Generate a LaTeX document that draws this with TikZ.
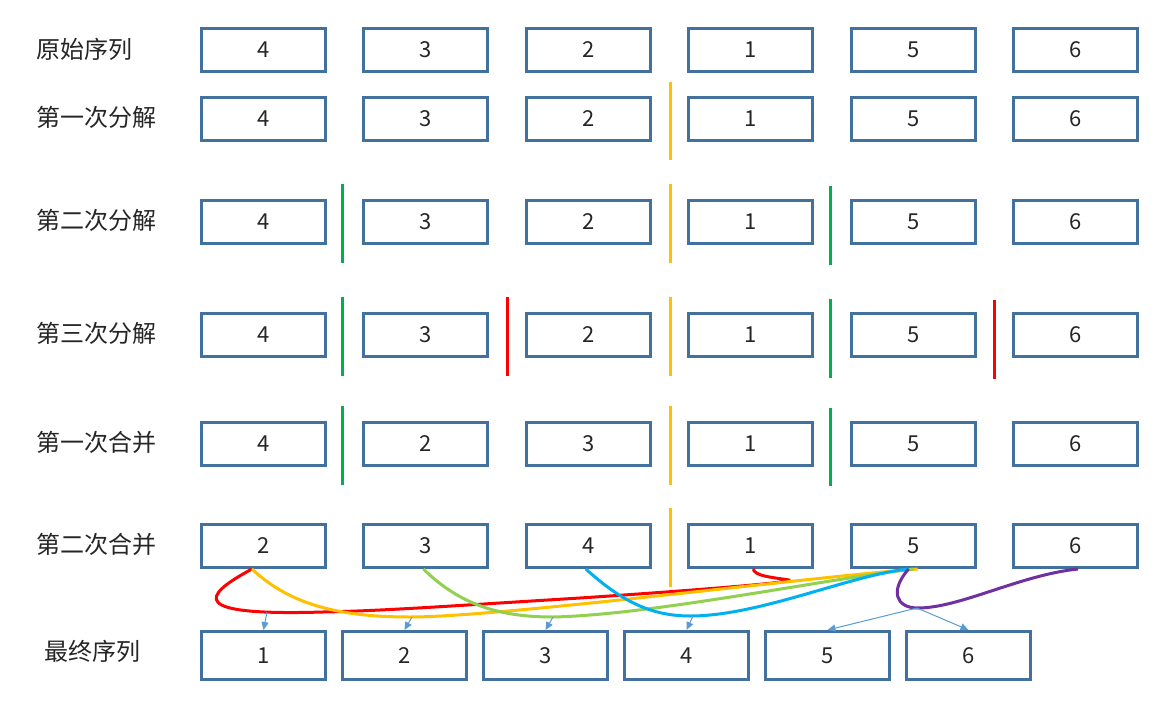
\documentclass[tikz,border=0pt]{standalone}
\usepackage{fontspec}
\setmainfont{Noto Sans CJK SC}
\usetikzlibrary{arrows.meta}
\definecolor{boxblue}{HTML}{41719C}
\definecolor{divorange}{HTML}{FFC000}
\definecolor{divgreen}{HTML}{00B050}
\definecolor{divred}{HTML}{FF0000}
\definecolor{cvgreen}{HTML}{92D050}
\definecolor{cvblue}{HTML}{00B0F0}
\definecolor{cvpurple}{HTML}{7030A0}
\definecolor{arrowblue}{HTML}{5B9BD5}
\begin{document}
\begin{tikzpicture}[x=1pt,y=-1pt,
  cell/.style={draw=boxblue,line width=3pt,minimum width=124pt,minimum height=43pt,inner sep=0pt,font=\fontsize{22}{26}\selectfont,text=black!85},
  fcell/.style={cell,minimum height=48pt},
  lbl/.style={anchor=west,inner sep=0pt,font=\fontsize{24}{28}\selectfont,text=black!85},
  divider/.style={line width=3pt},
  curve/.style={line width=3pt},
  tipline/.style={draw=arrowblue,line width=1pt,-{Triangle[length=8pt,width=7pt]}}]
\useasboundingbox[fill=white] (0,0) rectangle (1164,703);

% rows of boxes
\foreach \r/\y/\vals in {1/50/{4,3,2,1,5,6},2/119/{4,3,2,1,5,6},3/222/{4,3,2,1,5,6},4/335/{4,3,2,1,5,6},5/444/{4,2,3,1,5,6},6/546/{2,3,4,1,5,6}}{
  \foreach \v [count=\c] in \vals {
    \pgfmathsetmacro{\xx}{263.5+(\c-1)*162.4}
    \node[cell] (r\r-\c) at (\xx,\y) {\v};
  }
}
% labels
\node[lbl] (l1) at (36,49) {原始序列};
\node[lbl] (l2) at (36,117) {第一次分解};
\node[lbl] (l3) at (36,220) {第二次分解};
\node[lbl] (l4) at (36,333) {第三次分解};
\node[lbl] (l5) at (36,442) {第一次合并};
\node[lbl] (l6) at (36,544) {第二次合并};
\node[lbl] (l7) at (44,651) {最终序列};

% final row
\foreach \v [count=\c] in {1,2,3,4,5,6}{
  \pgfmathsetmacro{\xx}{263.5+(\c-1)*141}
  \node[fcell] (f\c) at (\xx,655.5) {\v};
}

% dividers
\draw[divider,divorange] (670,82) -- (670,160);
\draw[divider,divorange] (670,184) -- (670,263);
\draw[divider,divorange] (670,297) -- (670,376);
\draw[divider,divorange] (670,406) -- (670,485);
\draw[divider,divorange] (670,508) -- (670,587);
\draw[divider,divgreen] (342,184) -- (342,263);
\draw[divider,divgreen] (342,297) -- (342,376);
\draw[divider,divgreen] (342,406) -- (342,485);
\draw[divider,divgreen] (830,186) -- (830,265);
\draw[divider,divgreen] (830,299) -- (830,378);
\draw[divider,divgreen] (830,408) -- (830,486);
\draw[divider,divred] (507,297) -- (507,376);
\draw[divider,divred] (994,300) -- (994,379);

% merge curves
\draw[curve,divred] ([xshift=2.5]r6-4.south) .. controls (755,576) and (770,577) .. (789,580)
  .. controls (797,582) and (700,590) .. (580,598)
  .. controls (450,606) and (380,611) .. (323,612)
  .. controls (190,616) and (200,597) .. ([xshift=-11.5]r6-1.south);
\draw[curve,divorange] ([xshift=-11.5]r6-1.south) .. controls (290,605) and (340,617) .. (410,617)
  .. controls (500,617) and (800,578) .. ([xshift=4.5]r6-5.south);
\draw[curve,cvgreen] ([xshift=-2.5]r6-2.south) .. controls (460,605) and (500,617) .. (553,617)
  .. controls (650,615) and (820,580) .. ([xshift=0.5]r6-5.south);
\draw[curve,cvblue] ([xshift=-2.5]r6-3.south) .. controls (620,600) and (650,616) .. (690,616)
  .. controls (760,616) and (850,575) .. ([xshift=-4.5]r6-5.south);
\draw[curve,cvpurple] ([xshift=2.5]r6-6.south) .. controls (1020,575) and (960,608) .. (918,608)
  .. controls (895,608) and (890,590) .. ([xshift=-4.5]r6-5.south);

% pointers to final boxes
\coordinate (p1) at (267,612);
\coordinate (p2) at (412,617);
\coordinate (p3) at (553,617);
\coordinate (p4) at (693,616);
\coordinate (p5) at (917,608);
\draw[tipline] (p1) -- (f1.north);
\draw[tipline] (p2) -- (f2.north);
\draw[tipline] (p3) -- (f3.north);
\draw[tipline] (p4) -- (f4.north);
\draw[tipline] (p5) -- (f5.north);
\draw[tipline] (p5) -- (f6.north);
\end{tikzpicture}
\end{document}
